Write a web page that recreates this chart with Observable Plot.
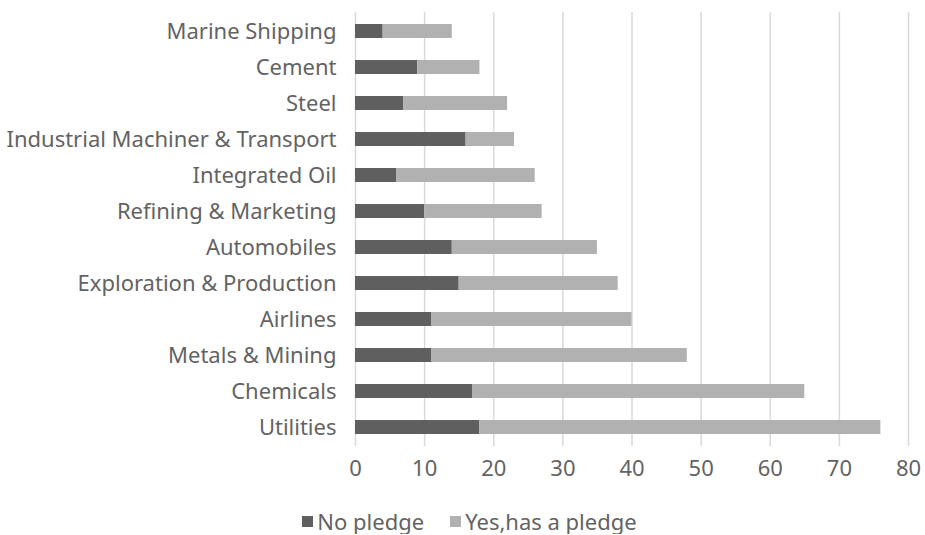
<!DOCTYPE html>
<html><head><meta charset="utf-8">
<script src="https://cdn.jsdelivr.net/npm/d3@7"></script>
<script src="https://cdn.jsdelivr.net/npm/@observablehq/plot@0.6"></script>
<style>
body{margin:0;background:#fff;font-family:"Noto Sans",sans-serif;}
#legend{display:flex;justify-content:center;gap:26px;font-size:22px;color:#636363;margin-top:11px;padding-left:14px;line-height:25px;}
#legend span.sw{display:inline-block;width:11px;height:11px;margin-right:4px;}
#legend div{display:flex;align-items:center;}
</style></head>
<body><div id="chart"></div>
<div id="legend"></div>
<script>
const categories = ["Marine Shipping","Cement","Steel","Industrial Machiner & Transport","Integrated Oil","Refining & Marketing","Automobiles","Exploration & Production","Airlines","Metals & Mining","Chemicals","Utilities"];
const noPledge = [4,9,7,16,6,10,14,15,11,11,17,18];
const yesPledge = [10,9,15,7,20,17,21,23,29,37,48,58];
const seriesNames = ["No pledge","Yes,has a pledge"];
const colors = ["#5f5f5f","#b1b1b1"];
const xTicks = [0,10,20,30,40,50,60,70,80];

const data = [];
categories.forEach((c,i)=>{
  data.push({cat:c, series:seriesNames[0], value:noPledge[i]});
  data.push({cat:c, series:seriesNames[1], value:yesPledge[i]});
});

const H = 498;
const plot = Plot.plot({
  width: 925, height: H,
  marginLeft: 355, marginRight: 17, marginTop: 12, marginBottom: H - 446,
  style:{fontFamily:"Noto Sans, sans-serif", fontSize:"22px", color:"#636363", background:"#fff"},
  x:{domain:[0,80], ticks:xTicks, label:null, tickSize:0},
  y:{domain:categories, label:null, paddingInner:0.6, paddingOuter:0.3, tickSize:0},
  color:{domain:seriesNames, range:colors},
  marks:[
    Plot.gridX(xTicks,{stroke:"#d9d9d9", strokeOpacity:1, strokeWidth:1.5}),
    Plot.barX(data, Plot.stackX({y:"cat", x:"value", fill:"series", order:seriesNames})),
    Plot.axisX({ticks:xTicks, tickSize:0, tickPadding:14, fontSize:22, fill:"#636363"}),
    Plot.axisY({tickSize:0, tickPadding:19, fontSize:22, fill:"#636363"})
  ]
});
document.getElementById("chart").appendChild(plot);

const lg = document.getElementById("legend");
seriesNames.forEach((s,i)=>{
  const d = document.createElement("div");
  d.innerHTML = `<span class="sw" style="background:${colors[i]}"></span>${s}`;
  lg.appendChild(d);
});
</script></body></html>
